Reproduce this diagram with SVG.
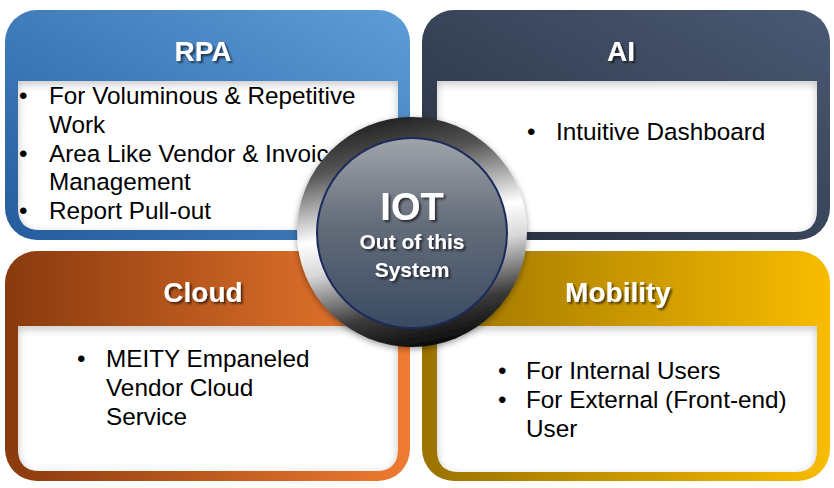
<svg xmlns="http://www.w3.org/2000/svg" width="834" height="488" viewBox="0 0 834 488">
<defs>
<linearGradient id="gRPA" x1="0" y1="1" x2="1" y2="0"><stop offset="0" stop-color="#245c9e"/><stop offset="1" stop-color="#5d9dd8"/></linearGradient>
<linearGradient id="gAI" x1="0" y1="1" x2="1" y2="0"><stop offset="0" stop-color="#262e3d"/><stop offset="1" stop-color="#4a5a74"/></linearGradient>
<linearGradient id="gCloud" x1="0" y1="0" x2="1" y2="0"><stop offset="0" stop-color="#8a3a0e"/><stop offset="1" stop-color="#ef7b30"/></linearGradient>
<linearGradient id="gMob" x1="0" y1="0" x2="1" y2="0"><stop offset="0" stop-color="#9a7200"/><stop offset="1" stop-color="#f8bc00"/></linearGradient>
<linearGradient id="gRing" x1="0.3" y1="0" x2="0.5" y2="1"><stop offset="0" stop-color="#1c1c1c"/><stop offset="0.2" stop-color="#555"/><stop offset="0.48" stop-color="#ffffff"/><stop offset="0.62" stop-color="#d8d8d8"/><stop offset="0.85" stop-color="#3a3a3a"/><stop offset="1" stop-color="#0e0e0e"/></linearGradient>
<linearGradient id="gCore" x1="0" y1="0" x2="0" y2="1"><stop offset="0" stop-color="#a0a4ab"/><stop offset="0.45" stop-color="#646d7a"/><stop offset="1" stop-color="#3a4a62"/></linearGradient>
<filter id="inset" x="-5%" y="-5%" width="110%" height="110%">
<feFlood flood-color="#000" flood-opacity="0.5" result="f"/>
<feComposite in="f" in2="SourceAlpha" operator="out" result="o"/>
<feOffset in="o" dy="3" result="oo"/>
<feGaussianBlur in="oo" stdDeviation="4" result="b"/>
<feComposite in="b" in2="SourceAlpha" operator="in" result="s"/>
<feMerge><feMergeNode in="SourceGraphic"/><feMergeNode in="s"/></feMerge>
</filter>
<filter id="ts" x="-20%" y="-20%" width="140%" height="160%">
<feDropShadow dx="2" dy="2" stdDeviation="1.2" flood-color="#000" flood-opacity="0.6"/>
</filter>
<filter id="cs" x="-10%" y="-10%" width="120%" height="120%">
<feDropShadow dx="0" dy="2" stdDeviation="3" flood-color="#000" flood-opacity="0.4"/>
</filter>
</defs>
<style>
.hd{font-family:"Liberation Sans",Arial,sans-serif;font-weight:bold;font-size:28px;fill:#fff;text-anchor:middle}
.bd{font-family:"Liberation Sans",Arial,sans-serif;font-size:24.3px;fill:#000}
.panel{fill:#fff}
.ct{font-family:"Liberation Sans",Arial,sans-serif;font-weight:bold;fill:#fff;text-anchor:middle}
</style>
<rect width="834" height="488" fill="#fff"/>
<g id="rpa">
<rect x="5" y="10" width="405" height="230" rx="32" fill="url(#gRPA)"/>
<path class="panel" d="M18 81 H398 V208 Q398 230 376 230 H40 Q18 230 18 208 Z" filter="url(#inset)"/>
<text class="hd" x="203" y="61" filter="url(#ts)">RPA</text>
<g class="bd">
<text x="19" y="104">•</text><text x="49" y="104">For Voluminous &amp; Repetitive</text>
<text x="49" y="133">Work</text>
<text x="19" y="162">•</text><text x="49" y="162">Area Like Vendor &amp; Invoice</text>
<text x="49" y="190">Management</text>
<text x="19" y="219">•</text><text x="49" y="219">Report Pull-out</text>
</g>
</g>
<g id="ai">
<rect x="422" y="10" width="408" height="230" rx="32" fill="url(#gAI)"/>
<path class="panel" d="M437 81 H817 V210 Q817 232 795 232 H459 Q437 232 437 210 Z" filter="url(#inset)"/>
<text class="hd" x="621" y="61" filter="url(#ts)">AI</text>
<g class="bd">
<text x="527" y="140">•</text><text x="556" y="140">Intuitive Dashboard</text>
</g>
</g>
<g id="cloud">
<rect x="5" y="251" width="405" height="230" rx="32" fill="url(#gCloud)"/>
<path class="panel" d="M18 326 H398 V449 Q398 471 376 471 H40 Q18 471 18 449 Z" filter="url(#inset)"/>
<text class="hd" x="203" y="302" filter="url(#ts)">Cloud</text>
<g class="bd">
<text x="77" y="367">•</text><text x="106" y="367">MEITY Empaneled</text>
<text x="106" y="396">Vendor Cloud</text>
<text x="106" y="425">Service</text>
</g>
</g>
<g id="mobility">
<rect x="422" y="251" width="408" height="230" rx="32" fill="url(#gMob)"/>
<path class="panel" d="M437 326 H817 V450 Q817 472 795 472 H459 Q437 472 437 450 Z" filter="url(#inset)"/>
<text class="hd" x="618" y="302" filter="url(#ts)">Mobility</text>
<g class="bd">
<text x="498" y="379">•</text><text x="526" y="379">For Internal Users</text>
<text x="498" y="408">•</text><text x="526" y="408">For External (Front-end)</text>
<text x="526" y="437">User</text>
</g>
</g>
<g id="connectors"></g>
<g id="iot">
<circle cx="412" cy="232" r="115" fill="url(#gRing)" filter="url(#cs)"/>
<circle cx="412" cy="233" r="95" fill="url(#gCore)" stroke="#1b2b5c" stroke-width="2"/>
<text class="ct" x="412" y="220" font-size="38" filter="url(#ts)">IOT</text>
<text class="ct" x="412" y="249" font-size="21" filter="url(#ts)">Out of this</text>
<text class="ct" x="412" y="277" font-size="21" filter="url(#ts)">System</text>
</g>
</svg>
